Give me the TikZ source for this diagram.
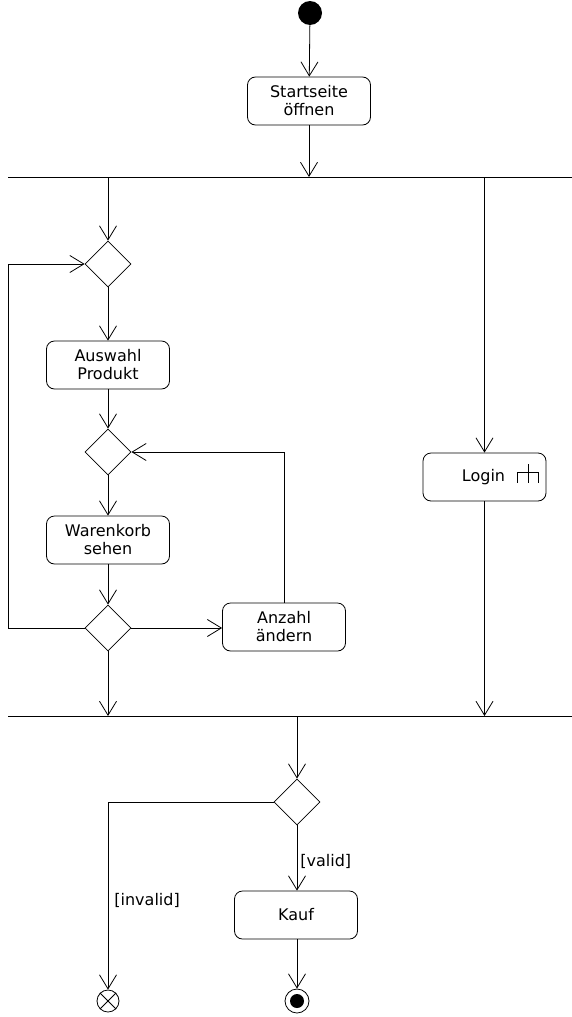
\documentclass[tikz,border=0pt]{standalone}
\usepackage{fontspec}
\setmainfont{DejaVu Sans}
\usetikzlibrary{arrows.meta,shapes.geometric}
\begin{document}
\begin{tikzpicture}[x=1pt,y=-1pt,
  line width=0.8pt,
  >={Straight Barb[length=14pt,width=17pt]},
  every node/.style={font=\fontsize{16}{18}\selectfont},
  action/.style={draw,rounded corners=8pt,minimum width=123pt,minimum height=48pt,align=center,inner sep=2pt},
  decision/.style={draw,diamond,minimum width=46pt,minimum height=46pt,inner sep=0pt},
  guard/.style={anchor=west,inner sep=0pt},
  bar/.style={line width=0.8pt}
]
\useasboundingbox (0,0) rectangle (572,1017);

% initial node
\node[circle,fill=black,minimum size=24pt,inner sep=0pt] (init) at (310,13) {};
\node[action] (start) at (309,101) {Startseite\\öffnen};

% fork bar
\coordinate (forkL) at (8,177);
\coordinate (forkR) at (572,177);
\draw[bar] (forkL) -- (forkR);

% shopping loop
\node[decision] (d1) at (108,264) {};
\node[action] (auswahl) at (108,365) {Auswahl\\Produkt};
\node[decision] (d2) at (108,452) {};
\node[action] (korb) at (108,540) {Warenkorb\\sehen};
\node[decision] (d3) at (108,628) {};
\node[action] (anzahl) at (284,627) {Anzahl\\ändern};

% login with sub-activity rake
\node[action] (login) at (484.5,477) {};
\node[inner sep=0pt] (logintext) at (483.5,477) {Login};
\draw (517.5,472) -- (538.5,472)
      (517.5,472) -- (517.5,483)
      (538.5,472) -- (538.5,483)
      (528,464) -- (528,483);

% join bar
\coordinate (joinL) at (8,716);
\coordinate (joinR) at (572,716);
\draw[bar] (joinL) -- (joinR);

% validation
\node[decision] (d4) at (297,802) {};
\node[action] (kauf) at (296,915) {Kauf};
\node[circle,draw,minimum size=22pt,inner sep=0pt] (flowend) at (108,1001) {};
\draw (flowend.north east) -- (flowend.south west)
      (flowend.north west) -- (flowend.south east);
\node[circle,draw,minimum size=24pt,inner sep=0pt] (final) at (297,1001) {};
\node[circle,fill=black,minimum size=14pt,inner sep=0pt] (finaldot) at (297,1001) {};

\coordinate (loopL) at (8,0);
\coordinate (invL) at (108,0);

% connectors
\draw[->] (init) -- (start);
\draw[->] (start) -- (start.south |- forkL);
\draw[->] (d1.north |- forkL) -- (d1.north);
\draw[->] (login.north |- forkL) -- (login.north);
\draw[->] (d1) -- (auswahl);
\draw[->] (auswahl) -- (d2);
\draw[->] (d2) -- (korb);
\draw[->] (korb) -- (d3);
\draw[->] (d3.east) -- (anzahl.west |- d3.east);
\draw[->] (anzahl.north) -- (anzahl.north |- d2.east) -- (d2.east);
\draw[->] (d3.west) -- (loopL |- d3.west) -- (loopL |- d1.west) -- (d1.west);
\draw[->] (d3.south) -- (d3.south |- joinL);
\draw[->] (login.south) -- (login.south |- joinL);
\draw[->] (d4.north |- joinL) -- (d4.north);
\draw[->] (d4.south) -- node[guard,pos=0.55,xshift=3pt] (gv) {[valid]} (kauf.north -| d4.south);
\draw[->] (d4.west) -- (invL |- d4.west) -- (flowend.north);
\node[guard] (gi) at (114,900) {[invalid]};
\draw[->] (kauf.south -| final.north) -- (final.north);
\end{tikzpicture}
\end{document}
